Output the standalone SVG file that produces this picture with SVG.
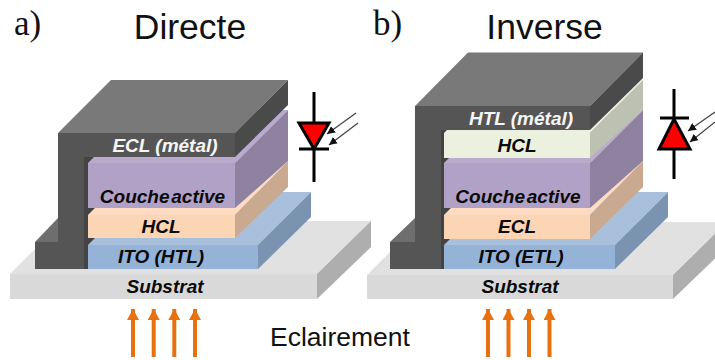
<svg xmlns="http://www.w3.org/2000/svg" width="715" height="360" viewBox="0 0 715 360">
<style>
.sf{fill:#d9d9d9}.st{fill:#e1e1e1}.ss{fill:#aeaeae}
.bf{fill:#95b3d7}.bt{fill:#a9c0dd}.bs{fill:#7a93b1}
.pf{fill:#fcd5b5}.pt{fill:#fddcc3}.ps{fill:#c9aa91}
.vf{fill:#b2a1c7}.vt{fill:#baabcd}.vs{fill:#8f81a0}
.gf{fill:#ebf1de}.gt{fill:#ebf1de}.gs{fill:#bcc1b2}
.df{fill:#555555}.dt{fill:#797979}.ds{fill:#4a4a4a}.dk{fill:#444444}.ft{fill:#6e6e6e}
text{font-family:"Liberation Sans",Arial,sans-serif}
.lb{font-size:19px;font-weight:bold;font-style:italic;text-anchor:middle;fill:#0a0a0a}
.wh{fill:#f6f6f6}
.ti{font-size:35.500px;fill:#111;text-anchor:middle}
.ab{font-family:"Liberation Serif","Times New Roman",serif;font-size:35px;fill:#111}
.w{stroke:#000;stroke-width:3;fill:none}
.tri{fill:#ff0000;stroke:#000;stroke-width:3;stroke-linejoin:miter}
.ray{stroke:#444;stroke-width:1.3;fill:none;marker-end:url(#rh)}
.lit{stroke:#e8710f;stroke-width:4;fill:none;marker-end:url(#oh)}
</style>
<defs>
<marker id="rh" markerUnits="userSpaceOnUse" markerWidth="9" markerHeight="8" refX="8" refY="4" orient="auto"><path d="M0 0L8 4L0 8Z" fill="#111"/></marker>
<marker id="oh" markerUnits="userSpaceOnUse" markerWidth="12" markerHeight="12" refX="11" refY="6" orient="auto"><path d="M0 0L11 6L0 12Z" fill="#e8710f"/></marker>
</defs>
<rect width="715" height="360" fill="#fff"/>
<g id="title-a"><text class="ab" x="14" y="35">a)</text><text class="ti" x="190" y="39">Directe</text></g>
<g id="title-b"><text class="ab" x="373" y="35">b)</text><text class="ti" x="544.500" y="39">Inverse</text></g>

<g id="substrat-a">
<polygon class="st" points="10,274 63,221 371,221 317,274"/><rect class="sf" x="10" y="274" width="307" height="25"/><polygon class="ss" points="317,274 371,221 371,247 317,299"/>
<text class="lb" x="165" y="293">Substrat</text></g>
<g id="electrode-a">
<polygon class="ft" points="35,242 58,218 62,242"/>
<rect class="dk" x="84" y="155" width="14" height="114"/>
<path class="df" d="M35 242H58V133H84V269H35Z"/>
</g>
<g id="ito-a">
<polygon class="bt" points="88,245 141,192 311,192 258,245"/><rect class="bf" x="88" y="245" width="170" height="24"/><polygon class="bs" points="258,245 311,192 311,217 258,269"/>
<text class="lb" x="161" y="263">ITO (HTL)</text></g>
<g id="hcl-a">
<polygon class="pt" points="88,215 141,161 288,161 235,215"/><rect class="pf" x="88" y="215" width="147" height="23"/><polygon class="ps" points="235,215 288,161 288,187 235,238"/>
<text class="lb" x="161" y="233">HCL</text></g>
<g id="active-a">
<polygon class="vt" points="88,163 141,110 288,110 235,163"/><rect class="vf" x="88" y="163" width="147" height="45"/><polygon class="vs" points="235,163 288,110 288,161 235,208"/>
<text class="lb" x="162.500" y="203" word-spacing="-3.500">Couche active</text></g>
<g id="ecl-a">
<polygon class="dt" points="58,133 111,80 288,80 235,133"/><rect class="df" x="58" y="133" width="177" height="24"/><polygon class="ds" points="235,133 288,80 288,105 235,157"/>
<text class="lb wh" x="165" y="152">ECL (métal)</text></g>

<g id="substrat-b">
<polygon class="st" points="367,275 420,222 727,222 673,275"/><rect class="sf" x="367" y="275" width="306" height="24"/><polygon class="ss" points="673,275 727,222 727,247 673,299"/>
<text class="lb" x="520" y="293">Substrat</text></g>
<g id="electrode-b">
<polygon class="ft" points="390,242 415,218 419,242"/>
<rect class="dk" x="441" y="128" width="14" height="141"/>
<path class="df" d="M390 242H415V106H441V269H390Z"/>
</g>
<g id="ito-b">
<polygon class="bt" points="444,245 497,192 668,192 615,245"/><rect class="bf" x="444" y="245" width="171" height="24"/><polygon class="bs" points="615,245 668,192 668,217 615,269"/>
<text class="lb" x="521" y="263">ITO (ETL)</text></g>
<g id="ecl-b">
<polygon class="pt" points="444,215 497,161 643,161 590,215"/><rect class="pf" x="444" y="215" width="146" height="24"/><polygon class="ps" points="590,215 643,161 643,187 590,239"/>
<text class="lb" x="517" y="233">ECL</text></g>
<g id="active-b">
<polygon class="vt" points="444,163 497,110 643,110 590,163"/><rect class="vf" x="444" y="163" width="146" height="45"/><polygon class="vs" points="590,163 643,110 643,161 590,208"/>
<text class="lb" x="518" y="203" word-spacing="-3.500">Couche active</text></g>
<g id="hcl-b">
<polygon class="gt" points="444,133 497,80 643,80 590,133"/><rect class="gf" x="444" y="133" width="146" height="25"/><polygon class="gs" points="590,133 643,80 643,110 590,158"/>
<text class="lb" x="517" y="152">HCL</text></g>
<g id="htl-b">
<polygon class="dt" points="415,106 468,52.500 643,52.500 590,106"/><rect class="df" x="415" y="106" width="175" height="24"/><polygon class="ds" points="590,106 643,52.500 643,78 590,130"/>
<text class="lb wh" x="521" y="125">HTL (métal)</text></g>

<g id="diode-a">
<path class="w" d="M314 92V122M314 149V182M299 149H329"/>
<polygon class="tri" points="299,123 329,123 314,149"/></g>
<g id="diode-b">
<path class="w" d="M674 89V118M674 149V179M660 118H689"/>
<polygon class="tri" points="674,119 690,149 659,149"/></g>
<g id="connectors">
<path class="ray" d="M356 113L327 134"/><path class="ray" d="M358 123L329 145"/>
<path class="ray" d="M715 112L688 131"/><path class="ray" d="M715 122L690 142"/>
<path class="lit" d="M133 357V309"/><path class="lit" d="M153.700 357V309"/><path class="lit" d="M174.300 357V309"/><path class="lit" d="M195 357V309"/>
<path class="lit" d="M488 357V309"/><path class="lit" d="M508.500 357V309"/><path class="lit" d="M529 357V309"/><path class="lit" d="M549.500 357V309"/>
</g>
<g id="label-eclairement"><text x="340" y="346" font-size="26.500" fill="#111" text-anchor="middle">Eclairement</text></g>
</svg>
